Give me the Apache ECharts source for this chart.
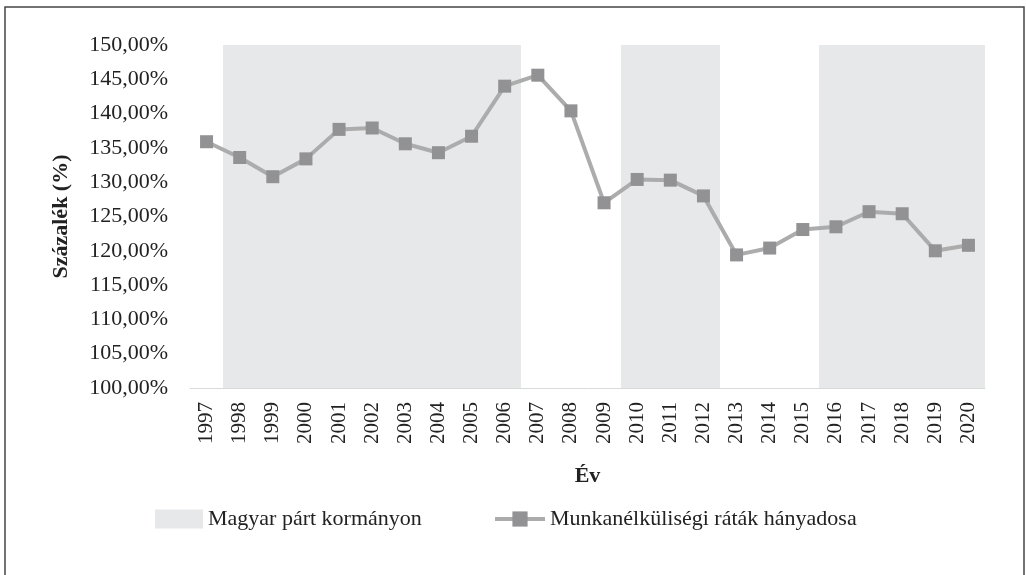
<!DOCTYPE html>
<html>
<head>
<meta charset="utf-8">
<script src="https://cdn.jsdelivr.net/npm/echarts@6/dist/echarts.min.js"></script>
<style>
html,body{margin:0;padding:0;background:#fff;}
#c{width:1026px;height:575px;}
</style>
</head>
<body>
<div id="c"></div>
<script>
const years = ['1997','1998','1999','2000','2001','2002','2003','2004','2005','2006','2007','2008','2009','2010','2011','2012','2013','2014','2015','2016','2017','2018','2019','2020'];
const ratio = [135.9,133.6,130.8,133.4,137.7,137.9,135.6,134.3,136.7,144.0,145.6,140.4,127.0,130.4,130.3,128.0,119.4,120.4,123.1,123.5,125.7,125.4,120.0,120.8];
const govShade = ['-',150,150,150,150,150,150,150,150,150,'-','-','-',150,150,150,'-','-','-',150,150,150,150,150];
const yTicks = {min:100, max:150, interval:5};
const barName = 'Magyar párt kormányon';
const lineName = 'Munkanélküliségi ráták hányadosa';

const font = "'Liberation Serif', 'DejaVu Serif', serif";
const shadeColor = '#e7e8ea';
const lineColor = '#acacac';
const markerColor = '#929294';
const chart = echarts.init(document.getElementById('c'));
chart.setOption({
  animation:false,
  backgroundColor:'#fff',
  textStyle:{fontFamily:font},
  grid:{left:190,right:41,top:45,bottom:187,containLabel:false},
  graphic:[{
    type:'rect', shape:{x:5,y:7,width:1019,height:575},
    style:{fill:'none',stroke:'#444',lineWidth:1.5}, silent:true
  }],
  legend:[{
    left:150, top:503, itemWidth:48, itemHeight:19, itemGap:40,
    textStyle:{fontFamily:font,fontSize:22,color:'#222'},
    data:[{name:barName, icon:'rect', itemStyle:{color:shadeColor}}]
  },{
    left:488, top:503, itemWidth:50, itemHeight:19,
    textStyle:{fontFamily:font,fontSize:22,color:'#222'},
    lineStyle:{width:4, color:lineColor},
    data:[{name:lineName, lineStyle:{width:4, color:lineColor}}]
  }],
  xAxis:{
    type:'category', data:years, boundaryGap:true,
    name:'Év', nameLocation:'middle', nameGap:77,
    nameTextStyle:{fontFamily:font,fontSize:22,fontWeight:'bold',color:'#222'},
    axisLine:{show:true,lineStyle:{color:'#d9d9d9',width:1}},
    axisTick:{show:false},
    axisLabel:{rotate:90,margin:14,fontFamily:font,fontSize:21,color:'#222'},
    splitLine:{show:false}
  },
  yAxis:{
    type:'value', min:yTicks.min, max:yTicks.max, interval:yTicks.interval,
    name:'Százalék (%)', nameLocation:'middle', nameGap:118,
    nameTextStyle:{fontFamily:font,fontSize:22,fontWeight:'bold',color:'#222'},
    axisLine:{show:false}, axisTick:{show:false}, splitLine:{show:false},
    axisLabel:{margin:22,fontFamily:font,fontSize:22,color:'#222',
      formatter:v=>v.toFixed(2).replace('.',',')+'%'}
  },
  series:[{
    name:barName, type:'custom', z:1, silent:true,
    itemStyle:{color:shadeColor},
    data:govShade.map((v,i)=>[i, v]),
    encode:{x:0,y:1},
    renderItem:function(params, api){
      const v = api.value(1);
      if (isNaN(v)) return null;
      const idx = api.value(0);
      const top = api.coord([idx, v]);
      const base = api.coord([idx, yTicks.min]);
      const bw = api.size([1,0])[0];
      const x0 = Math.round(top[0]-bw/2), x1 = Math.round(top[0]+bw/2);
      const y0 = Math.round(top[1]), y1 = Math.round(base[1]);
      return {type:'rect', shape:{x:x0,y:y0,width:x1-x0,height:y1-y0},
              style:{fill:shadeColor}};
    }
  },{
    name:lineName, type:'line', data:ratio,
    symbol:'rect', symbolSize:13,
    lineStyle:{color:lineColor,width:4},
    itemStyle:{color:markerColor}, z:3
  }]
});
</script>
</body>
</html>
